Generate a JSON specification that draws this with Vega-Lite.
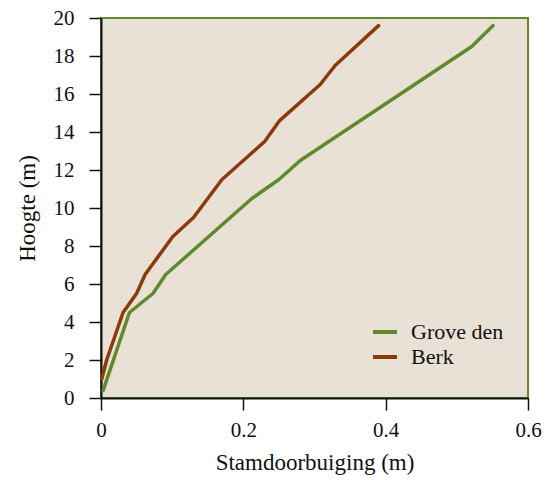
{
  "$schema": "https://vega.github.io/schema/vega-lite/v6.json",
  "width": 427,
  "height": 380,
  "autosize": "none",
  "padding": {"left": 101, "top": 18, "right": 17, "bottom": 82},
  "background": "white",
  "config": {
    "font": "Liberation Serif",
    "view": {"fill": "#e9e1d5", "stroke": "#5e8a2c", "strokeWidth": 2},
    "axis": {"grid": false, "labelFlush": false, "domainColor": "#111", "domainWidth": 2, "tickColor": "#111", "tickWidth": 1.5, "tickSize": 12, "labelFontSize": 21, "labelColor": "#111", "titleFontSize": 23, "titleFontWeight": "normal", "titleColor": "#111", "labelFont": "Liberation Serif", "titleFont": "Liberation Serif"}
  },
  "data": {
    "values": [
      {"s": "Grove den", "x": 0.003, "y": 0.4},
      {"s": "Grove den", "x": 0.04, "y": 4.5},
      {"s": "Grove den", "x": 0.073, "y": 5.5},
      {"s": "Grove den", "x": 0.091, "y": 6.5},
      {"s": "Grove den", "x": 0.212, "y": 10.5},
      {"s": "Grove den", "x": 0.25, "y": 11.5},
      {"s": "Grove den", "x": 0.28, "y": 12.5},
      {"s": "Grove den", "x": 0.521, "y": 18.5},
      {"s": "Grove den", "x": 0.551, "y": 19.6},
      {"s": "Berk", "x": 0.001, "y": 1.0},
      {"s": "Berk", "x": 0.008, "y": 2.0},
      {"s": "Berk", "x": 0.031, "y": 4.5},
      {"s": "Berk", "x": 0.05, "y": 5.5},
      {"s": "Berk", "x": 0.062, "y": 6.5},
      {"s": "Berk", "x": 0.101, "y": 8.5},
      {"s": "Berk", "x": 0.13, "y": 9.5},
      {"s": "Berk", "x": 0.17, "y": 11.5},
      {"s": "Berk", "x": 0.23, "y": 13.5},
      {"s": "Berk", "x": 0.251, "y": 14.6},
      {"s": "Berk", "x": 0.308, "y": 16.5},
      {"s": "Berk", "x": 0.329, "y": 17.5},
      {"s": "Berk", "x": 0.39, "y": 19.6}
    ]
  },
  "mark": {"type": "line", "strokeWidth": 3.5, "strokeCap": "round", "strokeJoin": "round"},
  "encoding": {
    "x": {"field": "x", "type": "quantitative", "scale": {"domain": [0, 0.6], "nice": false}, "axis": {"values": [0, 0.2, 0.4, 0.6], "format": "~g", "title": "Stamdoorbuiging (m)", "labelPadding": 9, "titlePadding": 11}},
    "y": {"field": "y", "type": "quantitative", "scale": {"domain": [0, 20], "nice": false}, "axis": {"values": [0, 2, 4, 6, 8, 10, 12, 14, 16, 18, 20], "title": "Hoogte (m)", "labelPadding": 15, "titlePadding": 14}},
    "color": {"field": "s", "type": "nominal", "scale": {"domain": ["Grove den", "Berk"], "range": ["#5e8a2c", "#8b3a0b"]}, "legend": {"title": null, "orient": "none", "legendX": 270, "legendY": 303, "symbolType": "stroke", "symbolStrokeWidth": 4, "symbolSize": 576, "labelFontSize": 22, "labelColor": "#111", "labelFont": "Liberation Serif", "rowPadding": 3, "clipHeight": 22, "labelOffset": 12}},
    "order": {"field": "y", "type": "quantitative"}
  }
}
